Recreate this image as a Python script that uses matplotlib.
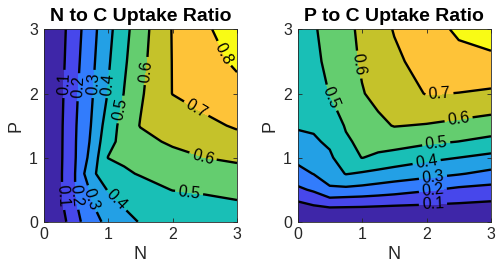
import matplotlib.pyplot as plt

plt.rcParams['font.family'] = ['Liberation Sans', 'DejaVu Sans']

# grid (same for both panels): N along columns, P along rows
N = [0, 0.25, 0.5, 0.75, 1.0, 1.25, 1.5, 2.0, 2.5, 3.0]
P = [0, 0.25, 0.5, 0.75, 1.0, 1.25, 1.5, 2.0, 2.5, 3.0]

# values, one row per P value
n_to_c = [
    [0.0, 0.050, 0.171, 0.262, 0.326, 0.372, 0.405, 0.425, 0.443, 0.460],
    [0.0, 0.073, 0.190, 0.292, 0.358, 0.405, 0.420, 0.445, 0.465, 0.485],
    [0.0, 0.082, 0.205, 0.318, 0.407, 0.433, 0.459, 0.503, 0.515, 0.527],
    [0.0, 0.082, 0.205, 0.385, 0.444, 0.486, 0.507, 0.528, 0.549, 0.570],
    [0.0, 0.080, 0.200, 0.338, 0.502, 0.517, 0.533, 0.567, 0.600, 0.615],
    [0.0, 0.079, 0.198, 0.318, 0.473, 0.530, 0.569, 0.616, 0.643, 0.670],
    [0.0, 0.078, 0.195, 0.307, 0.448, 0.538, 0.604, 0.641, 0.679, 0.710],
    [0.0, 0.073, 0.186, 0.292, 0.404, 0.503, 0.587, 0.702, 0.736, 0.770],
    [0.0, 0.066, 0.174, 0.279, 0.387, 0.485, 0.572, 0.703, 0.765, 0.815],
    [0.0, 0.061, 0.163, 0.267, 0.371, 0.469, 0.559, 0.705, 0.785, 0.850],
]

p_to_c = [
    [0.0, 0.0, 0.0, 0.0, 0.0, 0.0, 0.0, 0.0, 0.0, 0.0],
    [0.070, 0.097, 0.112, 0.110, 0.108, 0.104, 0.100, 0.092, 0.085, 0.075],
    [0.180, 0.214, 0.287, 0.277, 0.268, 0.255, 0.241, 0.211, 0.180, 0.165],
    [0.266, 0.303, 0.340, 0.405, 0.389, 0.372, 0.357, 0.333, 0.307, 0.275],
    [0.326, 0.344, 0.383, 0.462, 0.502, 0.482, 0.459, 0.424, 0.400, 0.374],
    [0.372, 0.386, 0.417, 0.487, 0.520, 0.537, 0.544, 0.518, 0.499, 0.472],
    [0.410, 0.415, 0.444, 0.508, 0.542, 0.582, 0.604, 0.594, 0.576, 0.556],
    [0.440, 0.470, 0.502, 0.550, 0.595, 0.623, 0.649, 0.705, 0.698, 0.686],
    [0.460, 0.480, 0.521, 0.568, 0.610, 0.650, 0.683, 0.735, 0.770, 0.775],
    [0.470, 0.492, 0.527, 0.575, 0.620, 0.665, 0.705, 0.760, 0.815, 0.850],
]

levels = [0.1, 0.2, 0.3, 0.4, 0.5, 0.6, 0.7, 0.8]
titles = ['N to C Uptake Ratio', 'P to C Uptake Ratio']
ticks = [0, 1, 2, 3]

# parula-like fill colours, one per band
band_colors = ['#3e26a8', '#4747eb', '#327cfc', '#23a0e5', '#19bfb6',
               '#64cd6f', '#c5c22a', '#fec338', '#f9fb15']

# where to put the inline labels
label_spots = [
    [(0.30, 2.15), (0.52, 2.1), (0.76, 2.15), (0.98, 2.15), (1.2, 1.75),
     (0.28, 0.4), (0.48, 0.4), (0.72, 0.35), (1.1, 0.3), (2.25, 0.4),
     (1.6, 2.35), (2.45, 0.95), (2.3, 1.65), (2.75, 2.6)],
    [(0.45, 1.9), (0.95, 2.45), (2.2, 1.98), (2.5, 1.58), (2.15, 1.22),
     (2.0, 0.95), (2.1, 0.7), (2.1, 0.48), (2.1, 0.28)],
]

fig = plt.figure(figsize=(5, 2.8), dpi=100)
axes = [fig.add_axes([0.087, 0.208, 0.387, 0.687]),
        fig.add_axes([0.595, 0.208, 0.387, 0.687])]

for ax, Z, title, spots in zip(axes, [n_to_c, p_to_c], titles, label_spots):
    ax.contourf(N, P, Z, levels=[-1] + levels + [2], colors=band_colors)
    cs = ax.contour(N, P, Z, levels=levels, colors='k', linewidths=1.7)
    ax.clabel(cs, fmt='%.1f', fontsize=11.5, inline=True, inline_spacing=3,
              manual=spots)
    ax.set_xlim(0, 3)
    ax.set_ylim(0, 3)
    ax.set_xticks(ticks)
    ax.set_yticks(ticks)
    ax.set_title(title, fontsize=14, fontweight='bold', pad=6)
    ax.set_xlabel('N', fontsize=13, color='#262626', labelpad=3)
    ax.set_ylabel('P', fontsize=13, color='#262626', labelpad=3)
    ax.tick_params(direction='in', top=True, right=True, length=3, width=0.6,
                   color='#262626', labelsize=11.5, labelcolor='#262626',
                   pad=4)
    for s in ax.spines.values():
        s.set_color('#262626')
        s.set_linewidth(0.6)

fig.savefig('out.png', dpi=100)
